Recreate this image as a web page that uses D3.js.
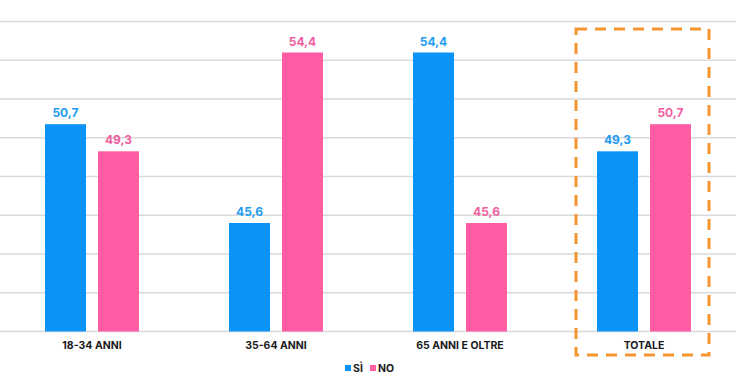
<!DOCTYPE html>
<html><head><meta charset="utf-8">
<script src="https://cdn.jsdelivr.net/npm/d3@7"></script>
<style>html,body{margin:0;padding:0;background:#fff;}svg{display:block;font-family:Inter,Lato,sans-serif;}</style>
</head><body>
<svg id="c" width="736" height="382"></svg>
<script>
const categories = ["18-34 ANNI", "35-64 ANNI", "65 ANNI E OLTRE", "TOTALE"];
const seriesNames = ["SÌ", "NO"];
const siValues = [50.7, 45.6, 54.4, 49.3];
const noValues = [49.3, 54.4, 45.6, 50.7];
const yTicks = [40, 42, 44, 46, 48, 50, 52, 54, 56];
const highlighted = "TOTALE";

const barColors = ["#0A94F8", "#FF5CA3"];
const labelColors = ["#1F9BF2", "#F0609F"];

const svg = d3.select("#c");
const W = 736, H = 382;
const x = d3.scaleBand().domain(categories).range([0, W]);
const x1 = d3.scaleBand().domain(seriesNames).range([-47, 47]).paddingInner(12/53);
const y = d3.scaleLinear().domain([40, 56]).range([331.5, 21.5]);

// gridlines
svg.append("g").selectAll("line").data(yTicks).join("line")
  .attr("x1", 0).attr("x2", W)
  .attr("y1", d => y(d)).attr("y2", d => y(d))
  .attr("stroke", "#d9d9d9").attr("stroke-width", 1.5);

const data = categories.map((c, i) => ({c, vals: [siValues[i], noValues[i]]}));
const g = svg.append("g");
data.forEach(d => {
  const cx = x(d.c) + x.bandwidth()/2;
  d.vals.forEach((v, j) => {
    const bx = cx + x1(seriesNames[j]);
    g.append("rect").attr("x", bx).attr("width", x1.bandwidth())
      .attr("y", y(v)).attr("height", y(40) - y(v)).attr("fill", barColors[j]);
    g.append("text").attr("x", bx + x1.bandwidth()/2).attr("y", y(v) - 7)
      .attr("text-anchor", "middle").attr("font-size", 12).attr("font-weight", 700)
      .attr("fill", labelColors[j]).text(d3.format(".1f")(v).replace(".", ","));
  });
});

// x axis labels
svg.append("g").attr("transform", "translate(0,331.5)")
  .call(d3.axisBottom(x).tickSize(0).tickPadding(10))
  .call(a => a.select(".domain").remove())
  .selectAll("text").attr("font-size", 10.5).attr("font-weight", 700)
  .attr("fill", "#1a1a1a").attr("font-family", "Inter, sans-serif");

// highlight box
const hx = x(highlighted) + x.bandwidth()/2;
svg.append("rect").attr("x", hx - 68).attr("y", 29).attr("width", 133).attr("height", 326)
  .attr("fill", "none").attr("stroke", "#F39630").attr("stroke-width", 3)
  .attr("stroke-dasharray", "11,8");

// legend
const leg = svg.append("g").attr("transform", "translate(345,368)");
const legPos = [0, 25];
seriesNames.forEach((s, i) => {
  const lg = leg.append("g").attr("transform", `translate(${legPos[i]},0)`);
  lg.append("rect").attr("x", 0).attr("y", -3).attr("width", 6).attr("height", 6).attr("fill", barColors[i]);
  lg.append("text").attr("x", 8).attr("y", 4).attr("font-size", 10.5).attr("font-weight", 700)
    .attr("fill", "#1a1a1a").text(s);
});
</script>
</body></html>
